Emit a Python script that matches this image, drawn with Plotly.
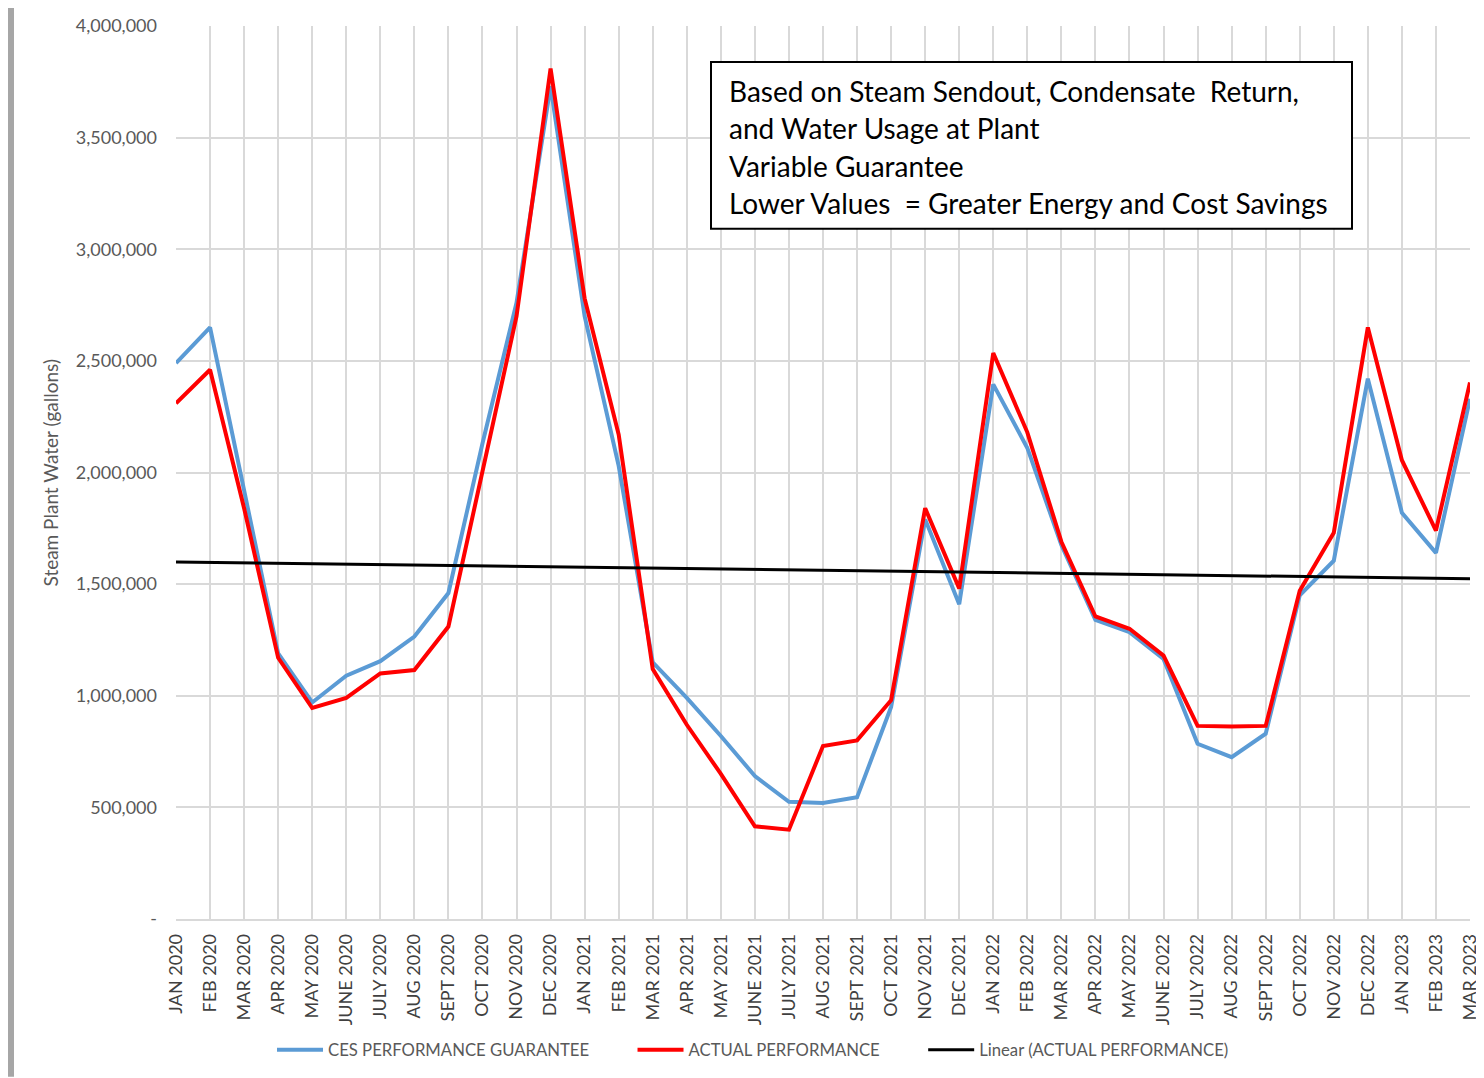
import numpy as np
import plotly.graph_objects as go

# month labels as printed on the axis
month_names = ["JAN", "FEB", "MAR", "APR", "MAY", "JUNE", "JULY", "AUG", "SEPT", "OCT", "NOV", "DEC"]
months = [f"{m} {y}" for y in (2020, 2021, 2022) for m in month_names] + ["JAN 2023", "FEB 2023", "MAR 2023"]

ces_guarantee = [
    2490000, 2650000, 1920000, 1190000, 970000, 1090000, 1155000, 1265000, 1460000, 2130000, 2760000, 3730000,
    2700000, 2030000, 1150000, 990000, 820000, 640000, 525000, 520000, 545000, 950000, 1790000, 1410000,
    2395000, 2110000, 1675000, 1340000, 1285000, 1165000, 785000, 725000, 830000, 1450000, 1605000, 2420000,
    1820000, 1640000, 2330000,
]

actual = [
    2310000, 2460000, 1840000, 1170000, 945000, 990000, 1100000, 1115000, 1310000, 2000000, 2700000, 3810000,
    2780000, 2170000, 1120000, 870000, 650000, 415000, 400000, 775000, 800000, 980000, 1840000, 1480000,
    2535000, 2180000, 1690000, 1355000, 1300000, 1180000, 865000, 862000, 865000, 1470000, 1730000, 2650000,
    2055000, 1740000, 2403000,
]

y_ticks = [0, 500000, 1000000, 1500000, 2000000, 2500000, 3000000, 3500000, 4000000]
y_tick_text = ["-"] + [f"{v:,}" for v in y_ticks[1:]]

note_lines = [
    "Based on Steam Sendout, Condensate  Return,",
    "and Water Usage at Plant",
    "Variable Guarantee",
    "Lower Values  = Greater Energy and Cost Savings",
]

# Excel-style linear trendline on the actual series
idx = np.arange(1, len(actual) + 1)
slope, intercept = np.polyfit(idx, actual, 1)
trend = slope * idx + intercept

FONT = "Lato"
PAGE_PAD = 8  # default body margin of the html page
W, H = 1476, 1070
L, R, T, B = 168, 14, 18, 158
pw, ph = W - L - R, H - T - B


# screen pixel -> paper coordinates
def px(x):
    return (x - PAGE_PAD - L) / pw


def py(y):
    return (PAGE_PAD + H - B - y) / ph


NB = "\u00a0"

fig = go.Figure()
fig.add_trace(go.Scatter(x=months, y=ces_guarantee, mode="lines", name="CES PERFORMANCE GUARANTEE" + NB * 9,
                         line=dict(color="#5B9BD5", width=4)))
fig.add_trace(go.Scatter(x=months, y=actual, mode="lines", name="ACTUAL PERFORMANCE" + NB * 9,
                         line=dict(color="#FF0000", width=4)))
fig.add_trace(go.Scatter(x=months, y=trend, mode="lines", name="Linear (ACTUAL PERFORMANCE)",
                         line=dict(color="#000000", width=3)))

# note box
fig.add_shape(type="rect", xref="paper", yref="paper",
              x0=px(711), x1=px(1352), y0=py(229), y1=py(62),
              line=dict(color="black", width=2), fillcolor="white", layer="above")
for i, line in enumerate(note_lines):
    fig.add_annotation(xref="paper", yref="paper", x=px(727), y=py(91 + i * 37.5),
                       text=line, showarrow=False, xanchor="left", yanchor="middle",
                       font=dict(family=FONT, size=28, color="black"))

# y axis title
fig.add_annotation(xref="paper", yref="paper", x=px(50), xanchor="center", y=py(473), text="Steam Plant Water (gallons)",
                   textangle=-90, showarrow=False, font=dict(family=FONT, size=19, color="#595959"))

# grey edge of the screenshot on the left
fig.add_shape(type="rect", xref="paper", yref="paper", x0=px(PAGE_PAD), x1=px(PAGE_PAD + 6),
              y0=py(PAGE_PAD + H), y1=py(PAGE_PAD),
              line=dict(width=0), fillcolor="#A6A6A6", layer="above")

fig.update_layout(
    width=W, height=H,
    margin=dict(l=L, r=R, t=T, b=B),
    paper_bgcolor="white", plot_bgcolor="white",
    font=dict(family=FONT, color="#595959"),
    showlegend=True,
    legend=dict(orientation="h", x=px(277) - 5 / pw, xanchor="left", y=py(1050), yanchor="middle",
                font=dict(family=FONT, size=16.7, color="#595959"), itemwidth=46),
    hovermode="x unified",
)
fig.update_xaxes(
    type="category", range=[0, len(months) - 1], automargin=False,
    showgrid=True, gridcolor="#D9D9D9", gridwidth=1.5,
    tickangle=-90, tickfont=dict(family=FONT, size=18, color="#404040"),
    ticks="", ticklabelstandoff=6,
    showline=True, linecolor="#D9D9D9", linewidth=1.5,
)
fig.update_yaxes(
    range=[0, 4000000], tickvals=y_ticks, ticktext=y_tick_text, automargin=False,
    showgrid=True, gridcolor="#D9D9D9", gridwidth=1.5, zeroline=False,
    tickfont=dict(family=FONT, size=18, color="#595959"),
    ticks="", ticklabelstandoff=18,
)

fig.write_html("out.html")
